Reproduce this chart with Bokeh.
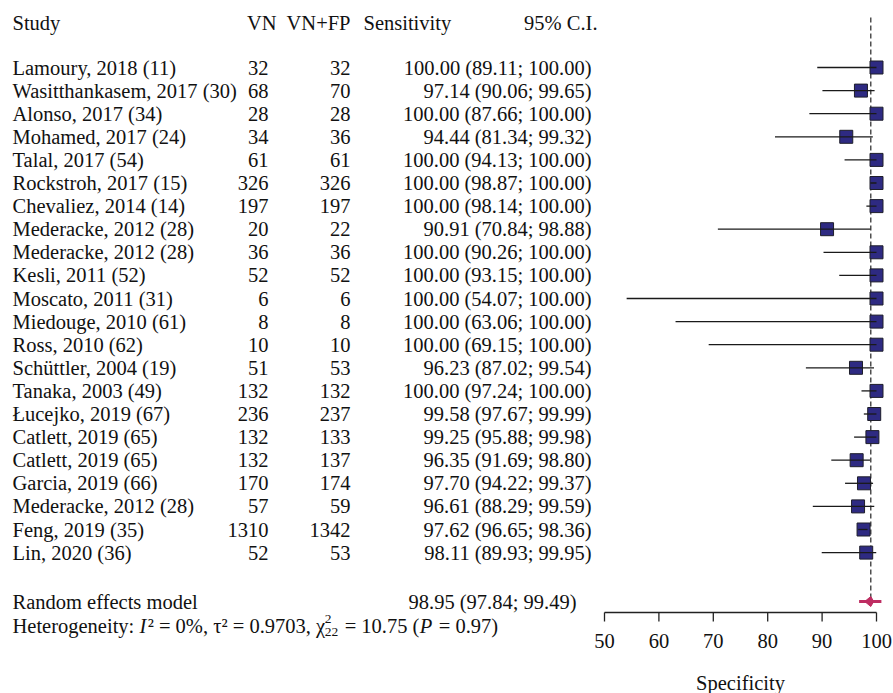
from bokeh.plotting import figure
from bokeh.models import Range1d
from bokeh.core.properties import value
from bokeh.embed import file_html
from bokeh.resources import INLINE

# ---------------- data ----------------
studies = ["Lamoury, 2018 (11)", "Wasitthankasem, 2017 (30)", "Alonso, 2017 (34)",
           "Mohamed, 2017 (24)", "Talal, 2017 (54)", "Rockstroh, 2017 (15)",
           "Chevaliez, 2014 (14)", "Mederacke, 2012 (28)", "Mederacke, 2012 (28)",
           "Kesli, 2011 (52)", "Moscato, 2011 (31)", "Miedouge, 2010 (61)",
           "Ross, 2010 (62)", "Schüttler, 2004 (19)", "Tanaka, 2003 (49)",
           "Łucejko, 2019 (67)", "Catlett, 2019 (65)", "Catlett, 2019 (65)",
           "Garcia, 2019 (66)", "Mederacke, 2012 (28)", "Feng, 2019 (35)",
           "Lin, 2020 (36)"]
vn = [32, 68, 28, 34, 61, 326, 197, 20, 36, 52, 6, 8, 10, 51, 132, 236, 132, 132,
      170, 57, 1310, 52]
vn_fp = [32, 70, 28, 36, 61, 326, 197, 22, 36, 52, 6, 8, 10, 53, 132, 237, 133, 137,
         174, 59, 1342, 53]
sens = [100.00, 97.14, 100.00, 94.44, 100.00, 100.00, 100.00, 90.91, 100.00, 100.00,
        100.00, 100.00, 100.00, 96.23, 100.00, 99.58, 99.25, 96.35, 97.70, 96.61,
        97.62, 98.11]
ci_lo = [89.11, 90.06, 87.66, 81.34, 94.13, 98.87, 98.14, 70.84, 90.26, 93.15,
         54.07, 63.06, 69.15, 87.02, 97.24, 97.67, 95.88, 91.69, 94.22, 88.29,
         96.65, 89.93]
ci_hi = [100.00, 99.65, 100.00, 99.32, 100.00, 100.00, 100.00, 98.88, 100.00, 100.00,
         100.00, 100.00, 100.00, 99.54, 100.00, 99.99, 99.98, 98.80, 99.37, 99.59,
         98.36, 99.95]
pooled = 98.95
pooled_lo = 97.84
pooled_hi = 99.49
# visible spread of the summary mark
pooled_band = [96.8, 100.9]
ticks = [50, 60, 70, 80, 90, 100]
headers = ["Study", "VN", "VN+FP", "Sensitivity", "95% C.I."]
model_label = "Random effects model"
i2, tau2, q_df, q_val, p_val = "0%", "0.9703", "22", "10.75", "0.97"
x_label = "Specificity"

# ---------------- layout helpers ----------------
W, H = 893, 693
PX_PER_UNIT = 5.44      # pixels per 1 unit of the scale
X50 = 604               # canvas x of value 50
ROW0, ROW_H = 67.0, 23.1


def xp(px):
    """canvas-x pixel -> data x"""
    return 50 + (px - X50) / PX_PER_UNIT


def yp(py):
    """canvas-y pixel -> row coordinate"""
    return (py - ROW0) / ROW_H


FONT = value("Liberation Serif")
FSV = 20.5
FS = f"{FSV}px"
SQ_FILL = "#2E2A82"
SQ_LINE = "#1E1E2A"
DIA = "#BE2D62"

p = figure(width=W, height=H, output_backend="svg", toolbar_location=None,
           x_range=Range1d(xp(0), xp(W)), y_range=Range1d(yp(H), yp(0)),
           x_axis_location=None, y_axis_location=None, min_border=0)
p.grid.visible = False
p.outline_line_color = None
p.background_fill_color = "white"

rows = list(range(len(studies)))
n = len(rows)


def txt(x, y, t, align="left", size=FS, style="normal"):
    p.text(x=x, y=y, text=t, text_font=FONT, text_font_size=size,
           text_align=align, text_baseline="middle", text_color="#111111",
           text_font_style=style)


# headers
hy = yp(22)
txt([xp(12)], [hy], [headers[0]])
txt([xp(276)], [hy], [headers[1]], "right")
txt([xp(350)], [hy], [headers[2]], "right")
txt([xp(363)], [hy], [headers[3]])
txt([xp(597)], [hy], [headers[4]], "right")

# study columns
txt([xp(12)] * n, rows, studies)
txt([xp(268)] * n, rows, [str(v) for v in vn], "right")
txt([xp(350)] * n, rows, [str(v) for v in vn_fp], "right")
ci_txt = [f"{s:.2f} ({l:.2f}; {h:.2f})" for s, l, h in zip(sens, ci_lo, ci_hi)]
txt([xp(591)] * n, rows, ci_txt, "right")

# summary rows
sy = yp(601)
txt([xp(12)], [sy], [model_label])
txt([xp(408)], [sy], [f"{pooled:.2f} ({pooled_lo:.2f}; {pooled_hi:.2f})"])

# heterogeneity line, set piece by piece: (text, style, lead space em, width em)
hy2 = 625
pieces = [
    ("Heterogeneity:", "normal", 0.0, 5.943),
    ("I", "italic", 0.25, 0.40),
    (f"² = {i2}, τ² = {tau2}, χ", "normal", 0.0, 8.62),
    (None, "script", 0.0, 0.74),
    (f"= {q_val} (", "normal", 0.25, 3.66),
    ("P", "italic", 0.0, 0.68),
    (f"= {p_val})", "normal", 0.25, 2.9),
]
cx = 12.0
for t, style, lead, em in pieces:
    cx += lead * FSV
    if t is None:
        small = f"{FSV * 0.66:.1f}px"
        txt([xp(cx + 0.5)], [yp(hy2 - 7)], ["2"], size=small)
        txt([xp(cx + 0.5)], [yp(hy2 + 6)], [q_df], size=small)
    else:
        txt([xp(cx)], [yp(hy2)], [t], style=style)
    cx += em * FSV

# reference dashed line at the pooled estimate
p.segment(x0=[pooled], y0=[yp(17)], x1=[pooled], y1=[sy], line_color="#333333",
          line_width=1.3, line_dash="5 3")

# squares, then CI lines on top
p.scatter(x=sens, y=rows, marker="square", size=13, fill_color=SQ_FILL,
          line_color=SQ_LINE, line_width=1)
p.segment(x0=ci_lo, y0=rows, x1=ci_hi, y1=rows, line_color="#1a1a1a", line_width=1.3)

# pooled diamond
dh = 5 / ROW_H
p.segment(x0=[pooled_band[0]], y0=[sy], x1=[pooled_band[1]], y1=[sy],
          line_color=DIA, line_width=3)
p.patch(x=[pooled_lo, pooled, pooled_hi, pooled], y=[sy, sy - dh, sy, sy + dh],
        fill_color=DIA, line_color=DIA, line_width=1)

# axis
ay = yp(612)
p.segment(x0=[ticks[0]], y0=[ay], x1=[ticks[-1]], y1=[ay], line_color="#222222",
          line_width=1.3)
p.segment(x0=ticks, y0=[ay] * len(ticks), x1=ticks, y1=[ay + 9 / ROW_H] * len(ticks),
          line_color="#222222", line_width=1.3)
txt(ticks, [yp(640)] * len(ticks), [str(t) for t in ticks], "center")
txt([75], [yp(682)], [x_label], "center")

open("out.html", "w").write(file_html(p, INLINE))
